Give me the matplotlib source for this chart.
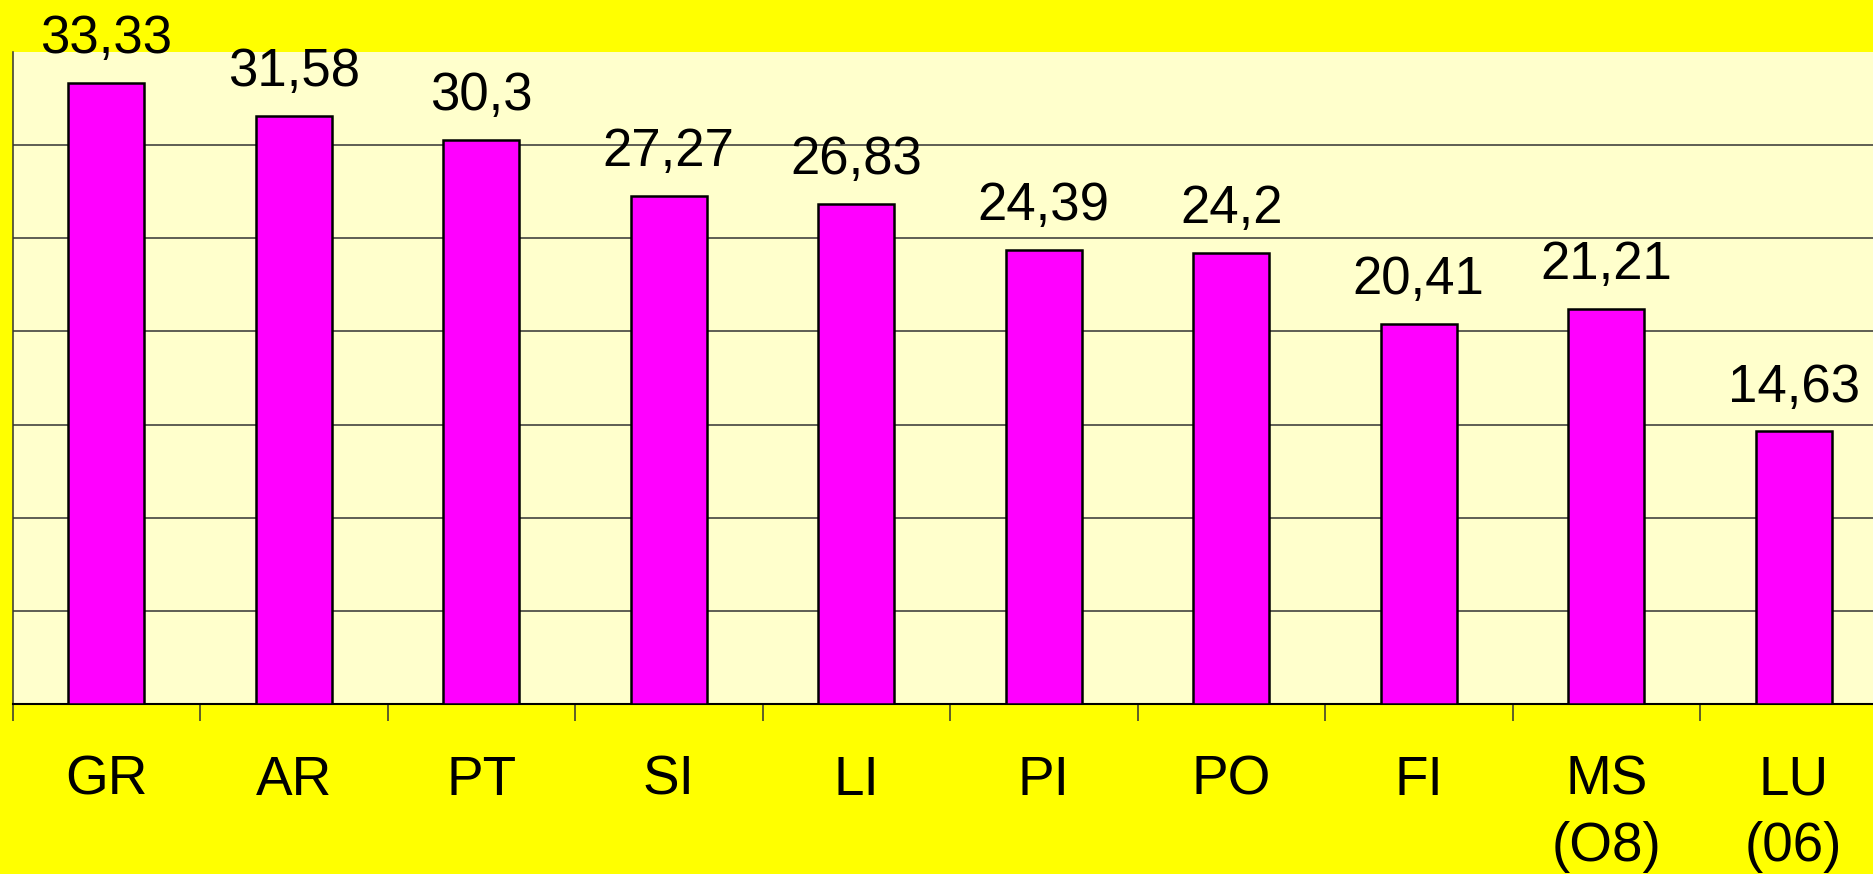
import matplotlib.pyplot as plt
import numpy as np

plt.rcParams['font.family'] = ['Liberation Sans', 'DejaVu Sans']

categories = ["GR", "AR", "PT", "SI", "LI", "PI", "PO", "FI", "MS\n(O8)", "LU\n(06)"]
values = [33.33, 31.58, 30.3, 27.27, 26.83, 24.39, 24.2, 20.41, 21.21, 14.63]
value_labels = [str(v).replace('.', ',') for v in values]

W, H = 1874, 874
fig = plt.figure(figsize=(W / 100, H / 100), dpi=100, facecolor='#FFFF00')
ax = fig.add_axes([12.5 / W, 170 / H, 1875 / W, 652 / H])
ax.set_facecolor('#FFFFCC')

x = np.arange(len(categories))
bars = ax.bar(x, values, width=0.405, color='#FF00FF', edgecolor='black',
              linewidth=1.8, zorder=3)

for b, lab in zip(bars, value_labels):
    ax.annotate(lab, (b.get_x() + b.get_width() / 2, b.get_height()),
                xytext=(0, 21.5), textcoords='offset points',
                ha='center', va='baseline', fontsize=38, color='black',
                annotation_clip=False, zorder=4)

ax.set_xlim(-0.5, len(categories) - 0.5)
ax.set_ylim(0, 35)
ax.set_yticks(np.arange(5, 35, 5))
ax.yaxis.grid(True, color='#333333', linewidth=1.1, zorder=1)
ax.tick_params(axis='y', length=0, labelleft=False)

ax.set_xticks(x)
ax.set_xticklabels(categories, fontsize=39.5, linespacing=1.36)
ax.set_xticks(np.arange(-0.5, len(categories), 1), minor=True)
ax.tick_params(axis='x', which='major', length=0, pad=36.5)
ax.tick_params(axis='x', which='minor', length=12, width=1.1, color='#333333')

for s in ['top', 'right']:
    ax.spines[s].set_visible(False)
ax.spines['left'].set_color('#333333')
ax.spines['left'].set_linewidth(1.1)
ax.spines['bottom'].set_color('black')
ax.spines['bottom'].set_linewidth(1.5)

fig.savefig('out.png', dpi=100, facecolor=fig.get_facecolor())
